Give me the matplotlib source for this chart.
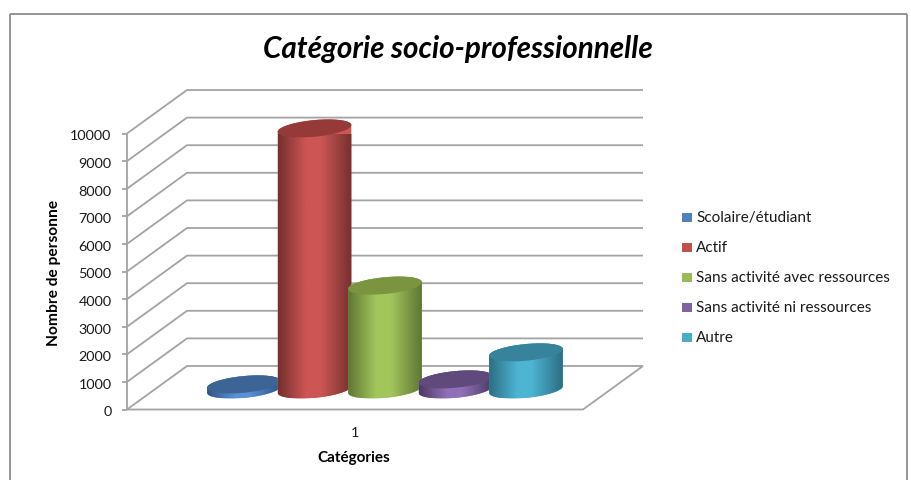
import numpy as np
import matplotlib
matplotlib.use("Agg")
import matplotlib.pyplot as plt
from matplotlib.colors import LinearSegmentedColormap
from matplotlib.patches import PathPatch, Rectangle
from matplotlib.path import Path
from matplotlib.transforms import Affine2D, IdentityTransform

plt.rcParams["font.family"] = ["Lato", "DejaVu Sans"]

# Data
series_names = ["Scolaire/étudiant", "Actif", "Sans activité avec ressources",
                "Sans activité ni ressources", "Autre"]
series_values = [185, 9460, 3765, 365, 1345]
category_label = "1"
y_ticks = list(range(0, 11000, 1000))

# Styles: legend colour, top cap, dark edge, bright centre
legend_colors = ["#4f81bd", "#c0504d", "#9bbb59", "#8064a2", "#4bacc6"]
cap_colors = ["#3c6595", "#953a38", "#7a9440", "#604a7b", "#37839c"]
edge_colors = ["#2f5486", "#74302e", "#5f7634", "#4b3a63", "#2c6e84"]
mid_colors = ["#5a90d6", "#cd5654", "#a3c65c", "#9070b8", "#4db4d2"]

W, H = 912, 481
GRID = "#a3a3a3"
TEXT = "#1a1a1a"

fig = plt.figure(figsize=(W / 100, H / 100), dpi=100)


def px_box(x0, y_top, x1, y_bottom):
    return [x0 / W, 1 - y_bottom / H, (x1 - x0) / W, (y_bottom - y_top) / H]


# The front plane of the 3D box is an ordinary axes
ax = fig.add_axes(px_box(127, 134.5, 583, 410.5))
ax.set_xlim(0.5, 1.5)
ax.set_ylim(0, 10000)
ax.axis("off")

# Whole-figure overlay holding the chart frame and the text
ov = fig.add_axes([0, 0, 1, 1], zorder=-1)
ov.set_xlim(0, W)
ov.set_ylim(H, 0)
ov.axis("off")
for xs, ys in [([10.5, 10.5], [481, 14.5]), ([10.5, 907], [14.5, 14.5]), ([907, 907], [14.5, 481])]:
    ov.plot(xs, ys, color="#8c8c8c", lw=1.3, solid_capstyle="butt")

# Depth of the box, as a pixel shift from the front plane to the back wall
DEPTH_X, DEPTH_Y = 60, 43.5
middle = Affine2D().translate(DEPTH_X / 2, 20)
kw = dict(color=GRID, lw=1.3, solid_capstyle="butt", clip_on=False)

xl, xr = ax.get_xlim()
to_disp = ax.transData
for v in y_ticks:
    fx, fy = to_disp.transform((xl, v))
    bx, by = fx + DEPTH_X, fy + DEPTH_Y
    rx = to_disp.transform((xr, v))[0] + DEPTH_X
    ax.plot([fx, bx, rx], [fy, by, by], transform=IdentityTransform(), **kw)
    ax.plot([fx - 5, fx], [fy, fy], transform=IdentityTransform(), **kw)
    ax.text(fx - 15.5, fy - 2, f"{v}", transform=IdentityTransform(), ha="right",
            va="center", fontsize=10.4, color=TEXT)

# Left edge and the floor outline
x0, y0 = to_disp.transform((xl, 0))
x1, y1 = to_disp.transform((xl, 10000))
x2, y2 = to_disp.transform((xr, 0))
ax.plot([x1, x0], [y1, y0], transform=IdentityTransform(), **kw)
ax.plot([x0, x2, x2 + DEPTH_X], [y0, y2, y2 + DEPTH_Y], transform=IdentityTransform(), **kw)

ax.text(1.0, -800, category_label, ha="center", va="center", fontsize=10.4, color=TEXT, clip_on=False)


def ellipse(cx, cy, rx=37.0, ry=8.3, tilt=np.radians(5.5), a0=0.0, a1=2 * np.pi, n=80):
    t = np.linspace(a0, a1, n)
    ex, ey = rx * np.cos(t), ry * np.sin(t)
    return np.column_stack([cx + ex * np.cos(tilt) - ey * np.sin(tilt),
                            cy + ex * np.sin(tilt) + ey * np.cos(tilt)])


def draw_cylinder(x, value, edge, mid, cap, order):
    shift = middle.get_matrix()[:2, 2]
    bottom = to_disp.transform((x, 0)) + shift
    top = to_disp.transform((x, value)) + shift

    # Outline: right-to-left across the upper rim, then back along the lower rim
    upper = ellipse(*top, a0=0, a1=np.pi)
    lower = ellipse(*bottom, a0=np.pi, a1=2 * np.pi)
    body = np.vstack([upper, lower, upper[:1]])
    patch = PathPatch(Path(body, closed=True), transform=IdentityTransform(),
                      facecolor=mid, edgecolor="none", zorder=order, clip_on=False)
    ax.add_patch(patch)

    # Horizontal shading, dark at both sides and brightest left of centre
    cmap = LinearSegmentedColormap.from_list(
        "shade", [(0, edge), (0.38, mid), (0.58, mid), (1, edge)])
    (dx0, dy0), (dx1, dy1) = ax.transData.inverted().transform(
        [(body[:, 0].min(), body[:, 1].min()), (body[:, 0].max(), body[:, 1].max())])
    img = ax.imshow(np.linspace(0, 1, 128)[None, :], cmap=cmap, aspect="auto",
                    extent=(dx0, dx1, dy0, dy1), zorder=order + 0.1, interpolation="bilinear")
    img.set_clip_path(patch)

    cap_patch = PathPatch(Path(ellipse(*top), closed=True), transform=IdentityTransform(),
                          facecolor=cap, edgecolor="none", zorder=order + 0.2, clip_on=False)
    ax.add_patch(cap_patch)


step = 0.1546
for i, value in enumerate(series_values):
    draw_cylinder(1 + (i - 2) * step, value, edge_colors[i], mid_colors[i], cap_colors[i], 5 + i)
ax.set_xlim(xl, xr)
ax.set_ylim(0, 10000)

# Title and axis titles
ov.text(458, 49, "Catégorie socio-professionnelle", ha="center", va="center",
        fontsize=21.3, fontweight="bold", fontstyle="italic", color="black")
ov.text(54, 272.5, "Nombre de personne", rotation=90, ha="center", va="center",
        fontsize=11.2, fontweight="bold", color="black")
ov.text(354, 458.5, "Catégories", ha="center", va="center",
        fontsize=11, fontweight="bold", color="black")

# Legend
ly = 219
for name, color in zip(series_names, legend_colors):
    ov.add_patch(Rectangle((682.5, ly - 5.5), 10, 9.5, facecolor=color, edgecolor="none"))
    ov.text(696, ly - 0.5, name, ha="left", va="center", fontsize=11, color=TEXT)
    ly += 30

fig.savefig("out.png", dpi=100, facecolor="white")
